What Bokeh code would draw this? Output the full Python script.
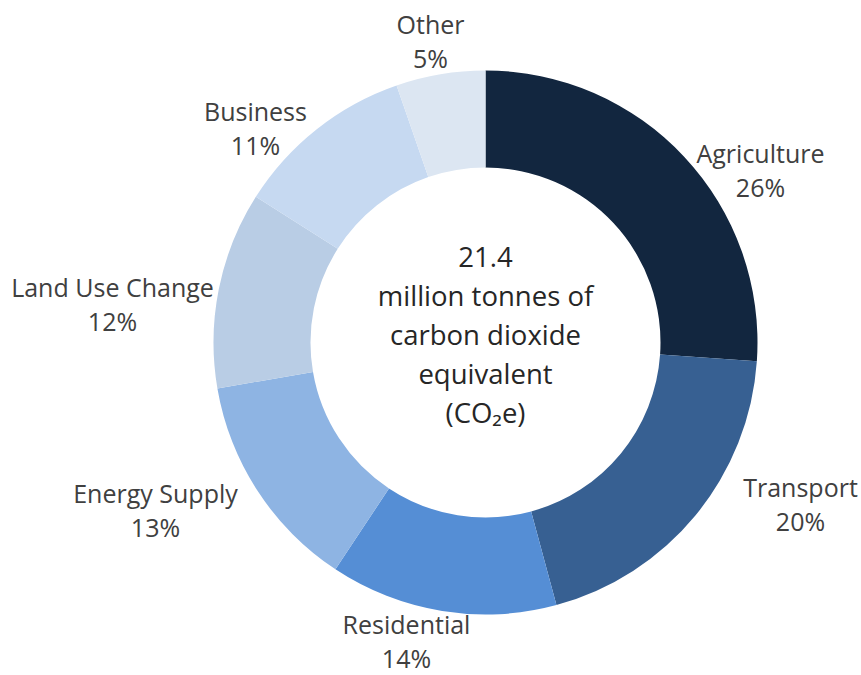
import math
from bokeh.plotting import figure
from bokeh.models import Range1d, ColumnDataSource
from bokeh.core.properties import value
from bokeh.embed import file_html
from bokeh.resources import INLINE

# ---- data ----
categories = ["Agriculture", "Transport", "Residential", "Energy Supply",
              "Land Use Change", "Business", "Other"]
shares = [26.1, 19.7, 13.5, 13.0, 11.7, 10.7, 5.3]
pct_labels = ["26%", "20%", "14%", "13%", "12%", "11%", "5%"]
colors = ["#12263F", "#376092", "#558ED5", "#8EB4E3", "#B9CDE5", "#C6D9F1", "#DCE6F2"]
center_lines = ["21.4", "million tonnes of", "carbon dioxide", "equivalent", "(CO\u2082e)"]

# ---- layout (pixel space, y measured from top) ----
W, H = 861, 675
CX, CY = 485, 342
R_OUT, R_IN = 272, 175
label_pos = [(760, 152), (800, 486), (406, 623), (155, 492), (112, 286), (255, 110), (430, 23)]
LINE_GAP = 34.5
FONT = "Open Sans"
TXT = "#404040"

def fy(y):
    return H - y

total = sum(shares)
starts, ends = [], []
cum = 0.0
for s in shares:
    c0 = cum / total
    cum += s
    c1 = cum / total
    starts.append(math.pi / 2 - 2 * math.pi * c1)
    ends.append(math.pi / 2 - 2 * math.pi * c0)

src = ColumnDataSource(dict(x=[CX] * len(shares), y=[fy(CY)] * len(shares),
                            start=starts, end=ends, color=colors, cat=categories))

p = figure(width=W, height=H, x_range=Range1d(0, W), y_range=Range1d(0, H),
           output_backend="svg", toolbar_location=None, min_border=0)
p.axis.visible = False
p.grid.visible = False
p.outline_line_color = None
p.background_fill_color = "white"
p.border_fill_color = "white"

p.annular_wedge(x="x", y="y", inner_radius=R_IN, outer_radius=R_OUT,
                start_angle="start", end_angle="end", color="color",
                line_color=None, direction="anticlock", source=src)

# slice labels
lx, ly, lt = [], [], []
for (x, y), name, pc in zip(label_pos, categories, pct_labels):
    lx += [x, x]
    ly += [fy(y), fy(y + LINE_GAP)]
    lt += [name, pc]
p.text(x=lx, y=ly, text=lt, text_font=value(FONT), text_font_size="25px",
       text_color=TXT, text_align="center", text_baseline="middle")

# center text
cy0 = 256
cys = [fy(cy0 + i * 39) for i in range(len(center_lines))]
p.text(x=[CX] * len(center_lines), y=cys, text=center_lines, text_font=value(FONT),
       text_font_size="27.5px", text_color="#262626", text_align="center",
       text_baseline="middle")

open("out.html", "w").write(file_html(p, INLINE))
